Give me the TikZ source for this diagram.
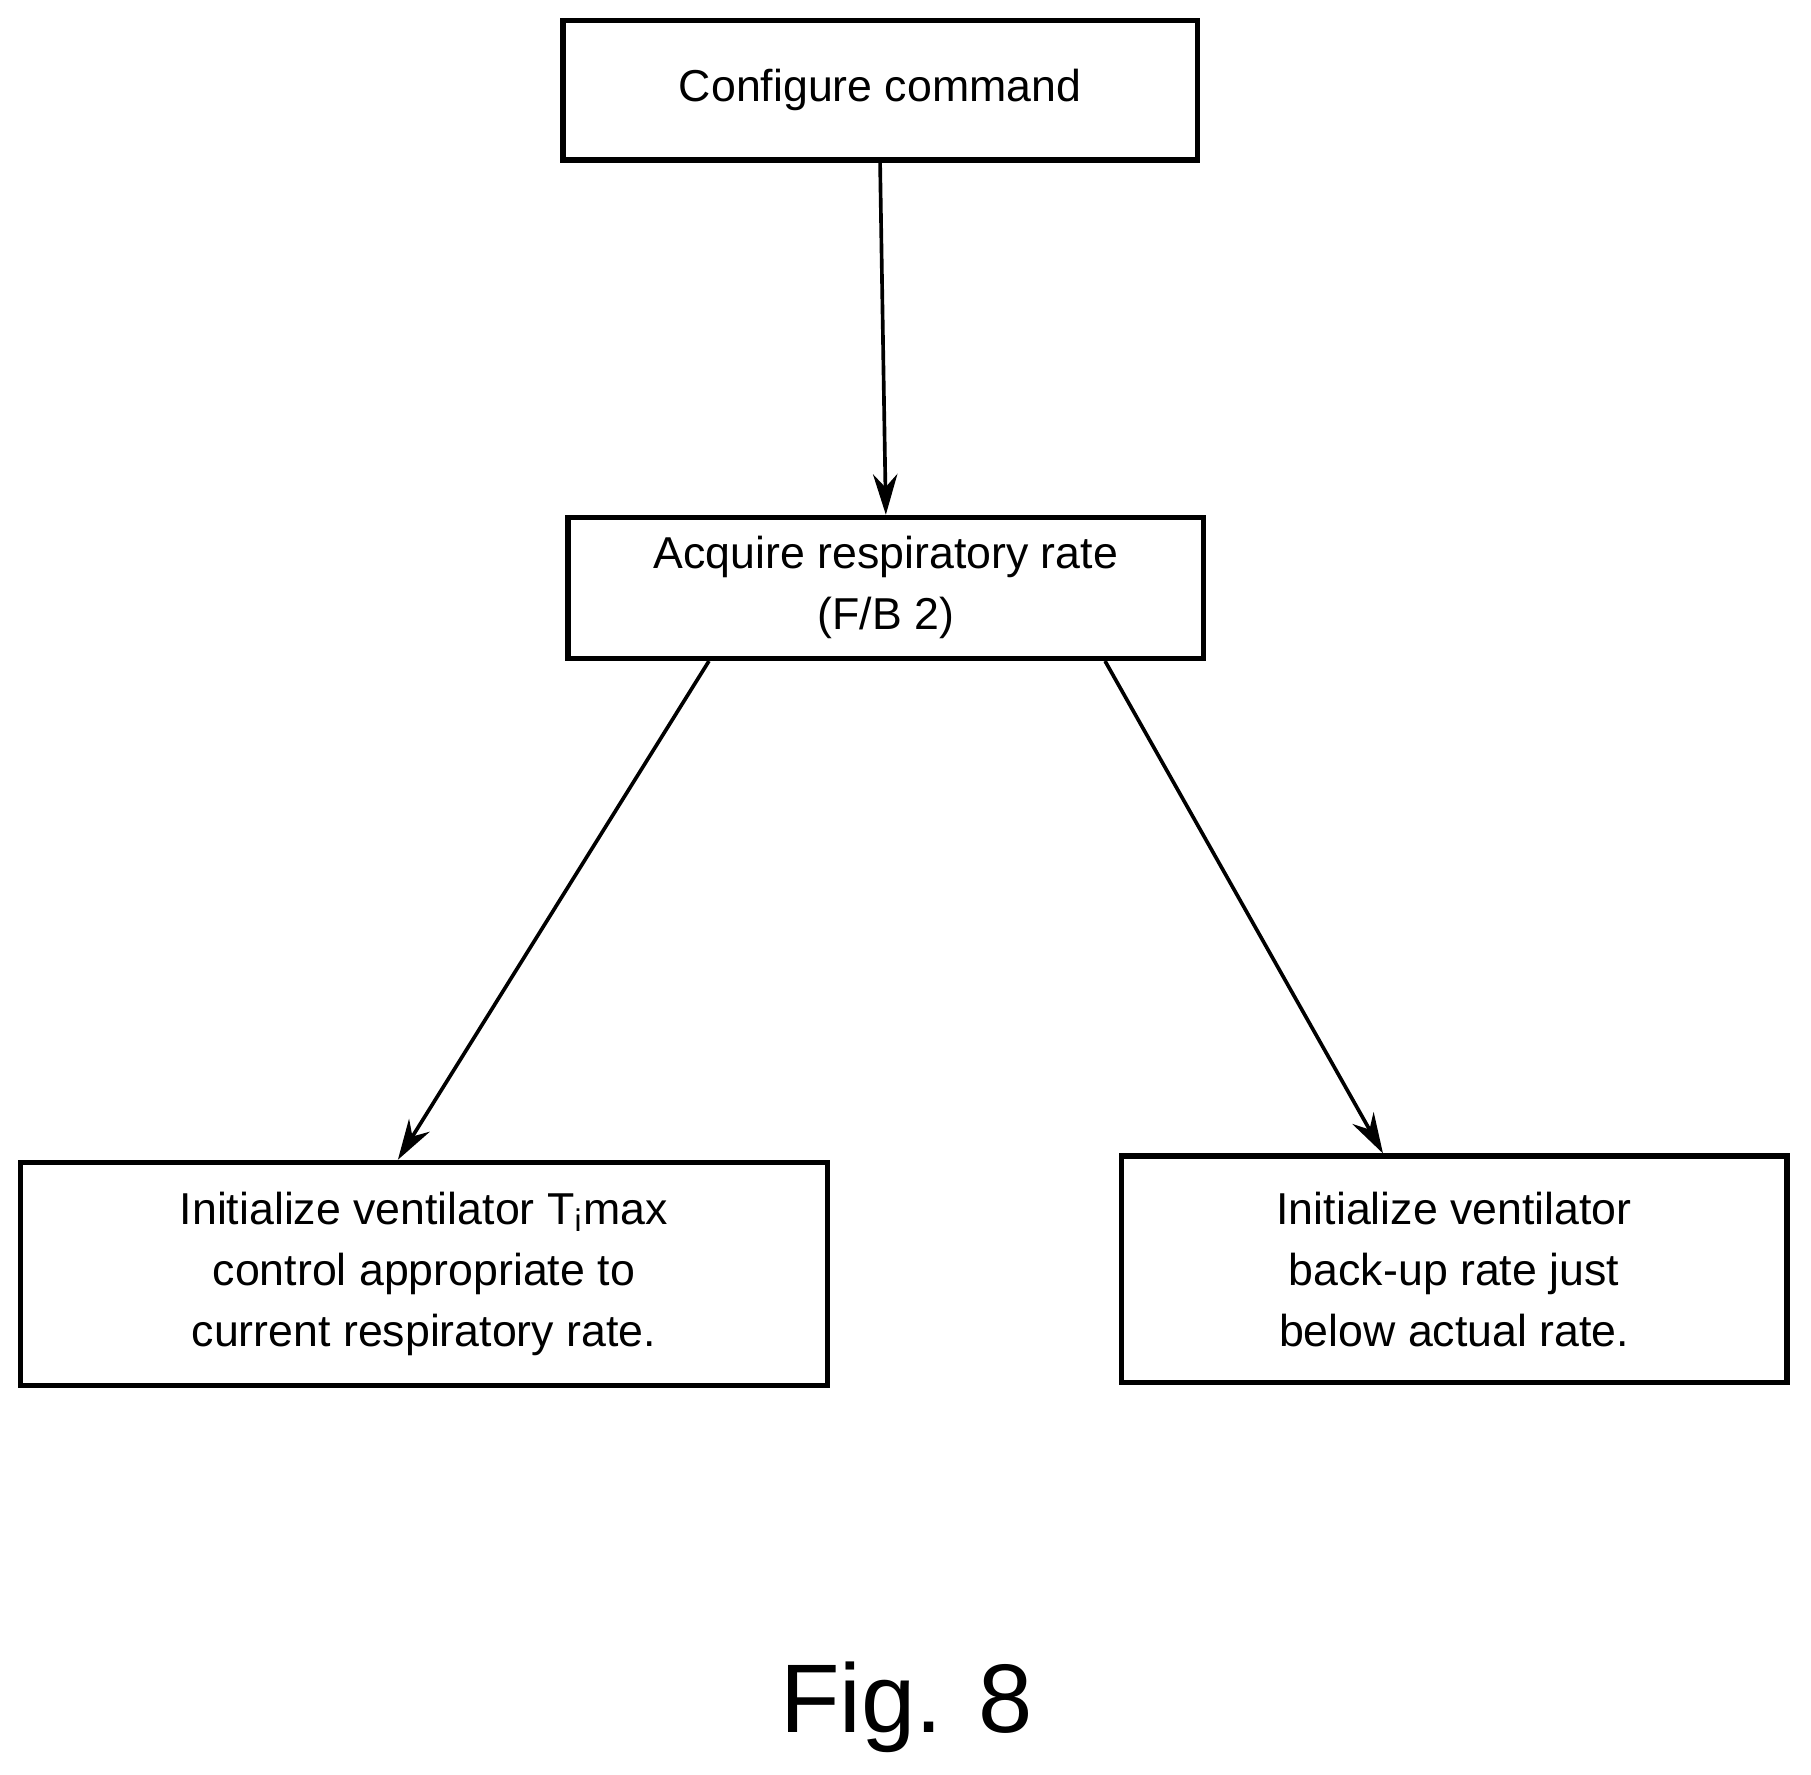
\documentclass[tikz,border=0pt]{standalone}
\usepackage{fontspec}
\setmainfont{Liberation Sans}
\usetikzlibrary{calc,arrows.meta}

\tikzset{
  stepbox/.style={draw, line width=1.3pt, align=center, font=\fontsize{11}{15}\selectfont},
  flow/.style={-{Stealth[length=10pt,width=6pt]}, line width=0.9pt}
}

\begin{document}
\begin{tikzpicture}[x=0.01cm, y=-0.01cm]

\useasboundingbox (0,0) rectangle (1568,1536);

\node[stepbox, minimum width=5.49cm, minimum height=1.21cm] (cfg) at (762,78) {Configure command};
\node[stepbox, minimum width=5.50cm, minimum height=1.22cm] (acq) at (767,509) {Acquire respiratory rate\\(F/B 2)};
\node[stepbox, minimum width=6.98cm, minimum height=1.93cm] (tmax) at (367,1103)
  {Initialize ventilator T$_\mathrm{i}$max\\control appropriate to\\current respiratory rate.};
\node[stepbox, minimum width=5.76cm, minimum height=1.96cm] (backup) at (1259,1099)
  {Initialize ventilator\\back-up rate just\\below actual rate.};

\node[font=\fontsize{24}{28}\selectfont] (fig) at (785,1478) {Fig. 8};

% connectors
\draw[flow] (cfg.south) -- (acq.north);
\draw[flow] ($(acq.south west)!0.224!(acq.south east)$) -- ($(tmax.north west)!0.468!(tmax.north east)$);
\draw[flow] ($(acq.south west)!0.842!(acq.south east)$) -- ($(backup.north west)!0.394!(backup.north east)$);

\end{tikzpicture}
\end{document}
